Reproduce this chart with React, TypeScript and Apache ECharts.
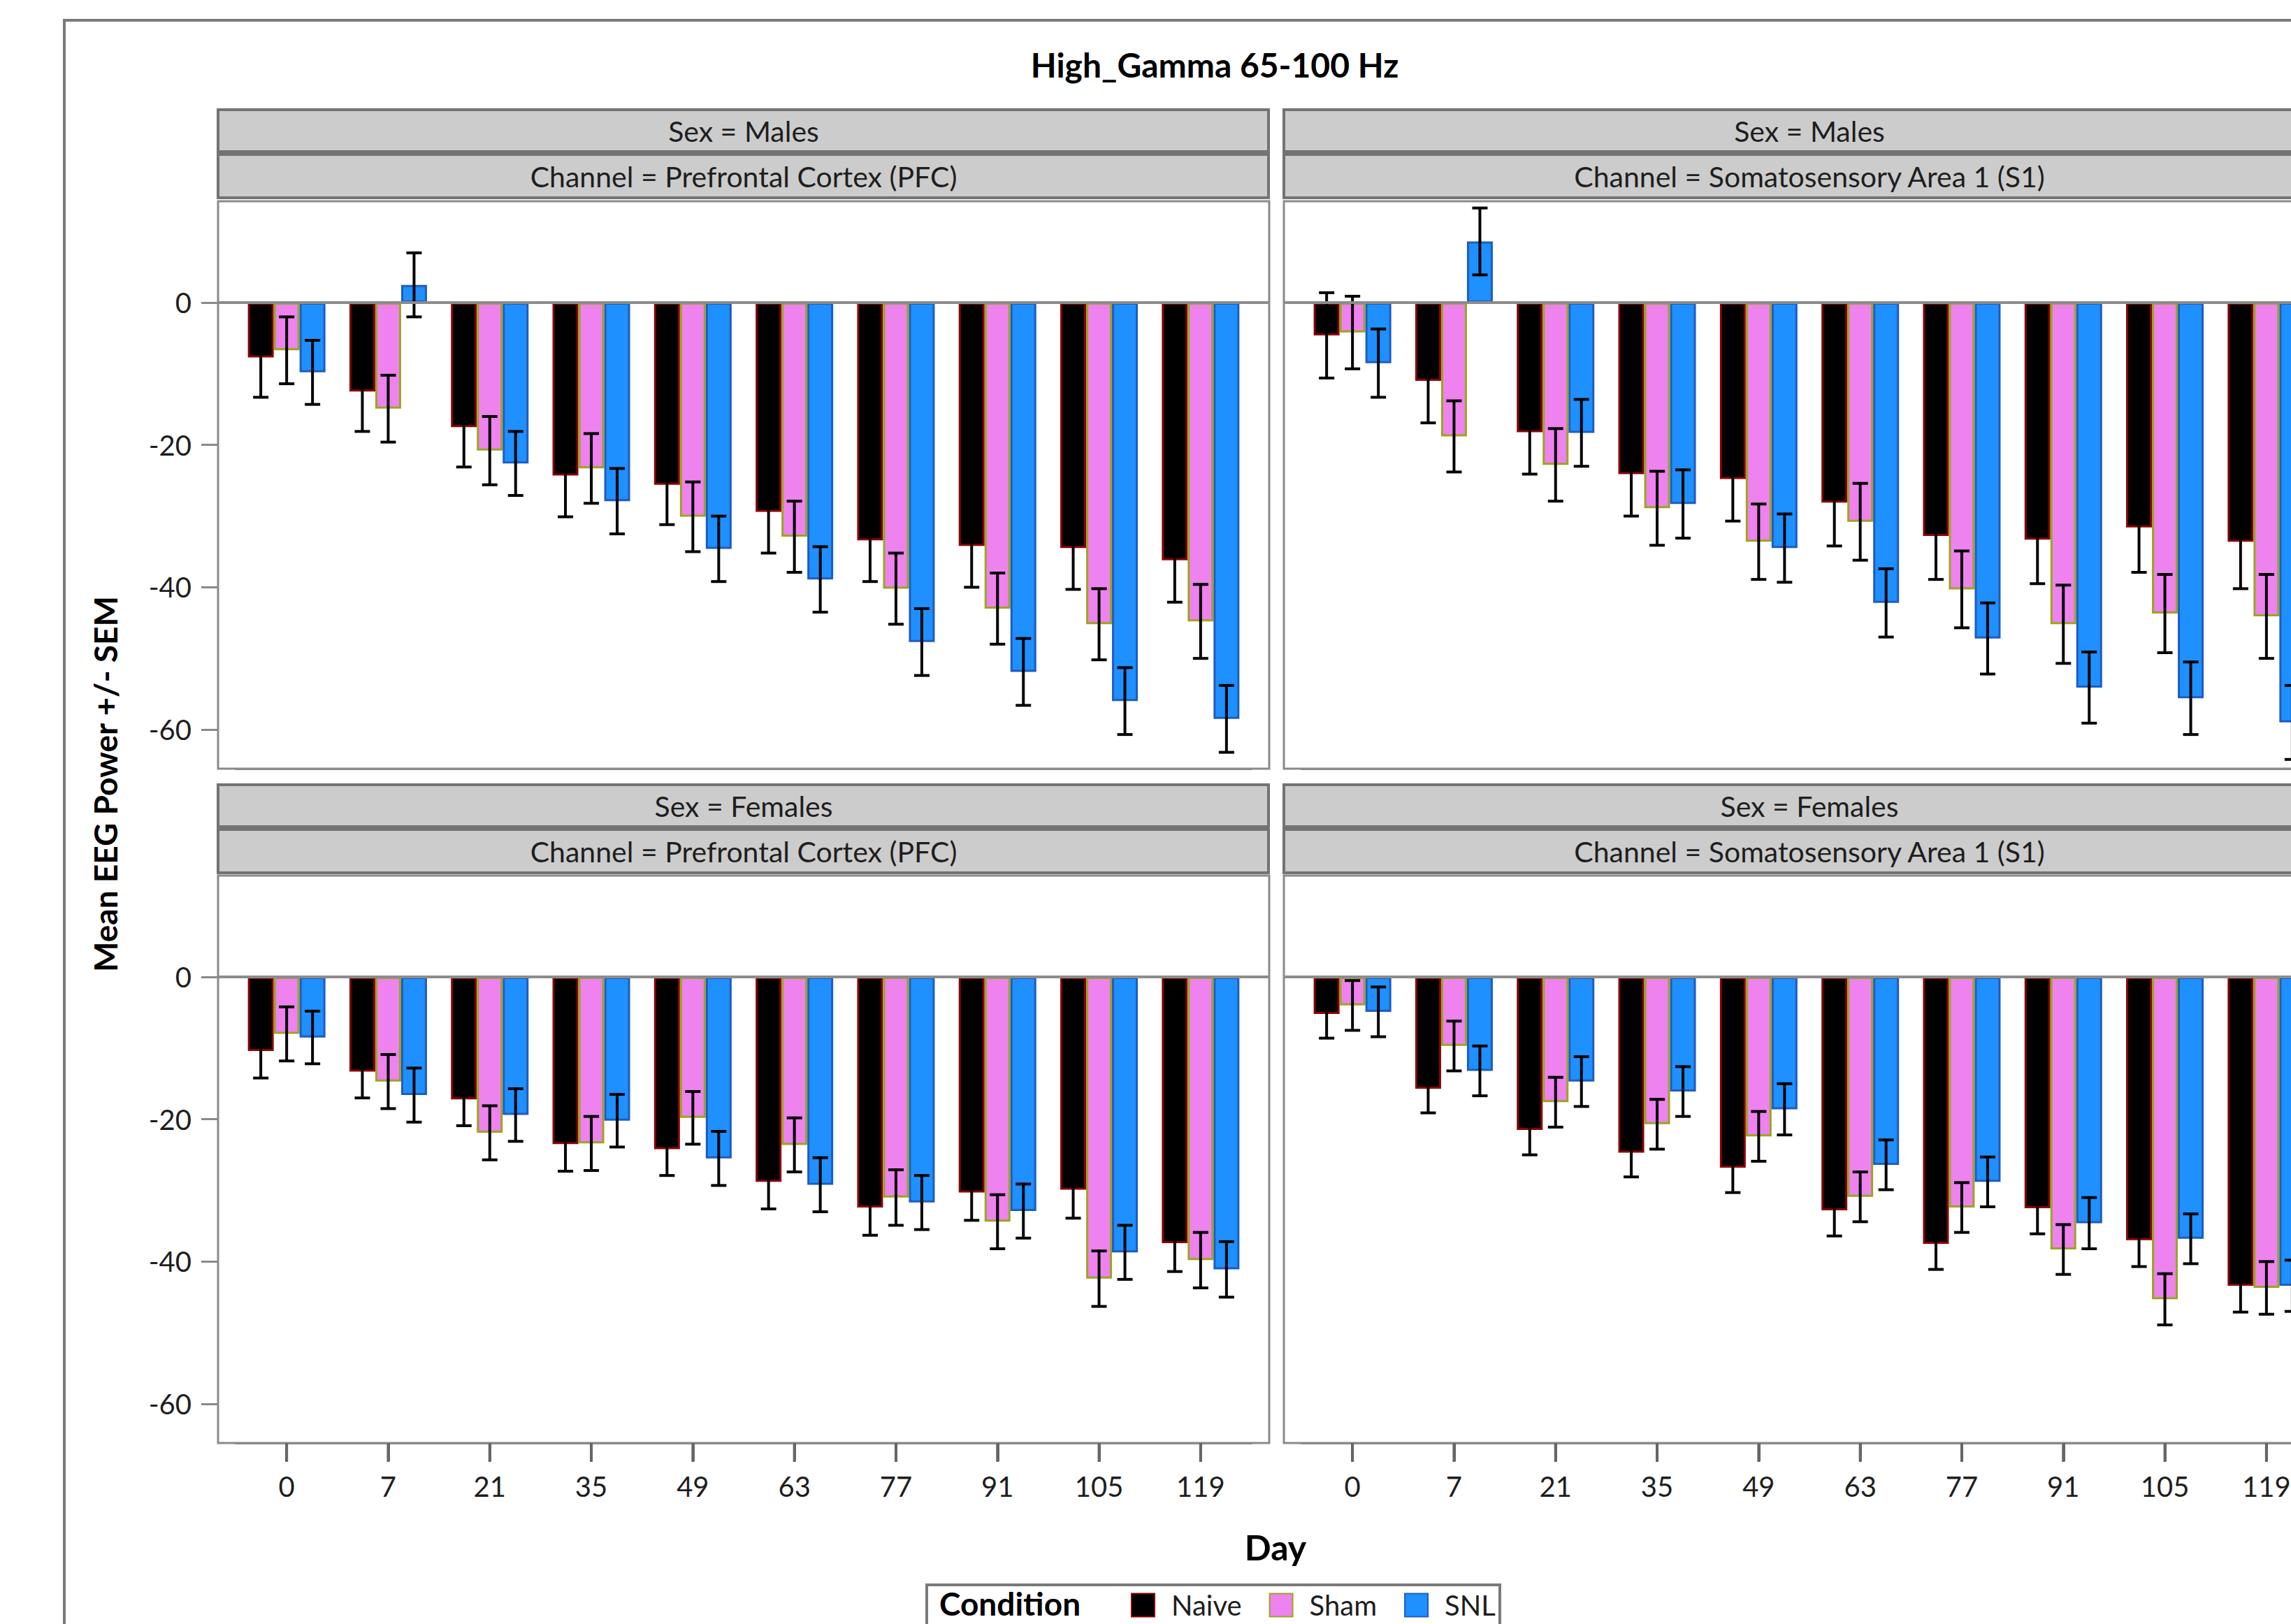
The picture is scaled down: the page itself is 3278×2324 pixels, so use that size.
import React, { useEffect, useRef } from "react";
import * as echarts from "echarts";

// ---------------- data ----------------
const chartTitle = "High_Gamma 65-100 Hz";
const yAxisTitle = "Mean EEG Power +/- SEM";
const xAxisTitle = "Day";
const legendTitle = "Condition";
const days = ["0", "7", "21", "35", "49", "63", "77", "91", "105", "119"];
const conditions = ["Naive", "Sham", "SNL"];
const yTickValues = [0, -20, -40, -60];

// Males, Prefrontal Cortex (PFC)
const malePfcNaive = [-7.7, -12.5, -17.5, -24.3, -25.6, -29.4, -33.4, -34.2, -34.5, -36.2];
const malePfcNaiveSem = [5.6, 5.6, 5.6, 5.8, 5.6, 5.8, 5.8, 5.8, 5.8, 5.9];
const malePfcSham = [-6.7, -14.9, -20.8, -23.3, -30.1, -32.9, -40.2, -43.0, -45.2, -44.8];
const malePfcShamSem = [4.7, 4.7, 4.8, 4.9, 4.9, 5.0, 5.0, 5.0, 5.0, 5.2];
const malePfcSnl = [-9.8, 2.5, -22.6, -27.9, -34.6, -38.9, -47.7, -51.9, -56.0, -58.5];
const malePfcSnlSem = [4.5, 4.5, 4.5, 4.6, 4.6, 4.6, 4.7, 4.7, 4.7, 4.7];

// Males, Somatosensory Area 1 (S1)
const maleS1Naive = [-4.6, -11.0, -18.2, -24.1, -24.8, -28.1, -32.8, -33.3, -31.6, -33.6];
const maleS1NaiveSem = [6.0, 5.9, 5.9, 5.9, 5.9, 6.1, 6.1, 6.2, 6.3, 6.6];
const maleS1Sham = [-4.2, -18.8, -22.8, -28.9, -33.6, -30.8, -40.3, -45.2, -43.7, -44.1];
const maleS1ShamSem = [5.1, 5.0, 5.1, 5.2, 5.3, 5.4, 5.4, 5.5, 5.5, 5.9];
const maleS1Snl = [-8.5, 8.6, -18.3, -28.3, -34.5, -42.2, -47.2, -54.1, -55.6, -59.0];
const maleS1SnlSem = [4.8, 4.7, 4.7, 4.8, 4.8, 4.8, 5.0, 5.0, 5.1, 5.2];

// Females, Prefrontal Cortex (PFC)
const femalePfcNaive = [-10.4, -13.3, -17.2, -23.5, -24.2, -28.8, -32.4, -30.3, -29.9, -37.4];
const femalePfcNaiveSem = [3.8, 3.7, 3.7, 3.8, 3.7, 3.8, 3.9, 3.9, 4.0, 4.0];
const femalePfcSham = [-8.0, -14.7, -21.9, -23.4, -19.8, -23.6, -31.0, -34.4, -42.4, -39.8];
const femalePfcShamSem = [3.8, 3.8, 3.8, 3.8, 3.7, 3.8, 3.9, 3.8, 3.9, 3.9];
const femalePfcSnl = [-8.5, -16.6, -19.4, -20.2, -25.5, -29.2, -31.7, -32.9, -38.7, -41.1];
const femalePfcSnlSem = [3.7, 3.8, 3.7, 3.7, 3.8, 3.8, 3.8, 3.8, 3.8, 3.9];

// Females, Somatosensory Area 1 (S1)
const femaleS1Naive = [-5.2, -15.7, -21.5, -24.7, -26.8, -32.8, -37.5, -32.5, -37.0, -43.4];
const femaleS1NaiveSem = [3.4, 3.4, 3.5, 3.4, 3.5, 3.6, 3.6, 3.6, 3.7, 3.7];
const femaleS1Sham = [-4.0, -9.7, -17.6, -20.7, -22.4, -30.9, -32.4, -38.3, -45.3, -43.7];
const femaleS1ShamSem = [3.5, 3.5, 3.5, 3.5, 3.5, 3.5, 3.5, 3.5, 3.6, 3.7];
const femaleS1Snl = [-4.9, -13.2, -14.7, -16.1, -18.6, -26.4, -28.8, -34.6, -36.8, -43.4];
const femaleS1SnlSem = [3.5, 3.5, 3.5, 3.5, 3.6, 3.5, 3.5, 3.6, 3.5, 3.6];

// ---------------- layout / style ----------------
const W = 3278;
const H = 2324;
const FONT = "Lato, 'Open Sans', 'DejaVu Sans', sans-serif";
const TEXT = "#1e1e1e";
const FRAME = "#8a8a8a";
const TICK = "#666666";
const STRIP_BORDER = "#737373";
const STRIP_FILL = "#cccccc";

const fills = ["#000000", "#ee82ee", "#1e90ff"];
const borders = ["#8b0000", "#9aa61e", "#1f5cc0"];

const Y_MIN = -65.5;
const Y_MAX = 14.25;
const colLeft = [312, 1837];
const stripTop = [155, 1121];
const plotTop = [288, 1253];
const PLOT_W = 1504;
const PLOT_H = 812;
const CAT_PAD = 25.5;
const BAR_W = 37;
const X_TICK_LEN = 26;

const panels = [
  {
    sex: "Males", channel: "Prefrontal Cortex (PFC)", col: 0, row: 0,
    means: [malePfcNaive, malePfcSham, malePfcSnl],
    sems: [malePfcNaiveSem, malePfcShamSem, malePfcSnlSem],
  },
  {
    sex: "Males", channel: "Somatosensory Area 1 (S1)", col: 1, row: 0,
    means: [maleS1Naive, maleS1Sham, maleS1Snl],
    sems: [maleS1NaiveSem, maleS1ShamSem, maleS1SnlSem],
  },
  {
    sex: "Females", channel: "Prefrontal Cortex (PFC)", col: 0, row: 1,
    means: [femalePfcNaive, femalePfcSham, femalePfcSnl],
    sems: [femalePfcNaiveSem, femalePfcShamSem, femalePfcSnlSem],
  },
  {
    sex: "Females", channel: "Somatosensory Area 1 (S1)", col: 1, row: 1,
    means: [femaleS1Naive, femaleS1Sham, femaleS1Snl],
    sems: [femaleS1NaiveSem, femaleS1ShamSem, femaleS1SnlSem],
  },
];

function errorRenderer(offset: number) {
  return (params: any, api: any) => {
    const i = api.value(0);
    const m = api.value(1);
    const s = api.value(2);
    const hi = api.coord([i, m + s]);
    const lo = api.coord([i, m - s]);
    const x = hi[0] + offset;
    const cap = 11;
    const style = { stroke: "#000", lineWidth: 4 };
    return {
      type: "group",
      children: [
        { type: "line", shape: { x1: x, y1: hi[1], x2: x, y2: lo[1] }, style },
        { type: "line", shape: { x1: x - cap, y1: hi[1], x2: x + cap, y2: hi[1] }, style },
        { type: "line", shape: { x1: x - cap, y1: lo[1], x2: x + cap, y2: lo[1] }, style },
      ],
    };
  };
}

function buildGraphic() {
  const graphic: any[] = [];
  graphic.push({
    type: "rect", id: "outer", silent: true,
    shape: { x: 92, y: 29, width: 3400, height: 3000 },
    style: { fill: "none", stroke: "#7a7a7a", lineWidth: 4 },
  });
  graphic.push({
    type: "text", id: "title", x: 1738, y: 92, silent: true,
    style: { text: chartTitle, font: `bold 48px ${FONT}`, fill: "#000", textAlign: "center", textVerticalAlign: "middle" },
  });
  graphic.push({
    type: "text", id: "ytitle", x: 150, y: 1122, rotation: Math.PI / 2, silent: true,
    style: { text: yAxisTitle, font: `bold 46px ${FONT}`, fill: "#000", textAlign: "center", textVerticalAlign: "middle" },
  });
  graphic.push({
    type: "text", id: "xtitle", x: 1825, y: 2214, silent: true,
    style: { text: xAxisTitle, font: `bold 50px ${FONT}`, fill: "#000", textAlign: "center", textVerticalAlign: "middle" },
  });
  graphic.push({
    type: "rect", id: "legendbox", silent: true,
    shape: { x: 1326, y: 2268, width: 820, height: 200 },
    style: { fill: "none", stroke: "#7a7a7a", lineWidth: 4 },
  });
  graphic.push({
    type: "text", id: "legendtitle", x: 1344, y: 2294, silent: true,
    style: { text: legendTitle, font: `bold 46px ${FONT}`, fill: "#000", textAlign: "left", textVerticalAlign: "middle" },
  });
  panels.forEach((p, pi) => {
    const fx = colLeft[p.col];
    const sy = stripTop[p.row];
    graphic.push({
      type: "rect", id: `s1-${pi}`, silent: true,
      shape: { x: fx, y: sy + 2, width: 1503, height: 60 },
      style: { fill: STRIP_FILL, stroke: STRIP_BORDER, lineWidth: 4 },
    });
    graphic.push({
      type: "rect", id: `s2-${pi}`, silent: true,
      shape: { x: fx, y: sy + 66, width: 1503, height: 62 },
      style: { fill: STRIP_FILL, stroke: STRIP_BORDER, lineWidth: 4 },
    });
    graphic.push({
      type: "text", id: `t1-${pi}`, x: fx + 752, y: sy + 32, silent: true,
      style: { text: `Sex = ${p.sex}`, font: `41px ${FONT}`, fill: TEXT, textAlign: "center", textVerticalAlign: "middle" },
    });
    graphic.push({
      type: "text", id: `t2-${pi}`, x: fx + 752, y: sy + 97, silent: true,
      style: { text: `Channel = ${p.channel}`, font: `41px ${FONT}`, fill: TEXT, textAlign: "center", textVerticalAlign: "middle" },
    });
    // bottom-row category tick marks, at the centre of each category band of the axis layout
    if (p.row === 1) {
      const band = (PLOT_W - 2 * CAT_PAD) / days.length;
      const y0 = plotTop[p.row] + PLOT_H + 1;
      days.forEach((d, i) => {
        const cx = fx + CAT_PAD + (i + 0.5) * band;
        graphic.push({
          type: "rect", id: `xt-${pi}-${i}`, silent: true, z: 50,
          shape: { x: cx - 2, y: y0, width: 4, height: X_TICK_LEN },
          style: { fill: TICK },
        });
      });
    }
  });
  return graphic;
}

function buildOption() {
  const grid: any[] = [];
  const xAxis: any[] = [];
  const yAxis: any[] = [];
  const series: any[] = [];

  panels.forEach((p, pi) => {
    const fx = colLeft[p.col];
    const fy = plotTop[p.row];
    const fg = pi * 2;
    const bg = pi * 2 + 1;

    grid.push({
      left: fx, top: fy, width: PLOT_W, height: PLOT_H,
      show: true, borderColor: FRAME, borderWidth: 3,
      containLabel: false, outerBoundsMode: "none",
    });
    grid.push({
      left: fx + CAT_PAD, top: fy, width: PLOT_W - 2 * CAT_PAD, height: PLOT_H,
      containLabel: false, outerBoundsMode: "none",
    });

    xAxis.push({ type: "value", gridIndex: fg, min: 0, max: 1, show: false });
    yAxis.push({
      type: "value", gridIndex: fg, min: Y_MIN, max: Y_MAX,
      splitLine: { show: false },
      axisLine: { show: false },
      axisTick: {
        show: p.col === 0, length: 24, customValues: yTickValues,
        lineStyle: { color: FRAME, width: 3 },
      },
      axisLabel: {
        show: p.col === 0, customValues: yTickValues, margin: 38,
        fontFamily: FONT, fontSize: 40, color: TEXT,
      },
    });

    xAxis.push({
      type: "category", gridIndex: bg, data: days, position: "bottom", z: 10,
      axisLine: { show: true, onZero: false, lineStyle: { color: FRAME, width: 3 } },
      axisTick: {
        show: p.row === 1, alignWithLabel: true, length: X_TICK_LEN, interval: 0,
        lineStyle: { color: TICK, width: 4 },
      },
      axisLabel: {
        show: p.row === 1, margin: 42, fontFamily: FONT, fontSize: 40,
        lineHeight: 40, color: TEXT, interval: 0,
      },
      splitLine: { show: false },
    });
    yAxis.push({ type: "value", gridIndex: bg, min: Y_MIN, max: Y_MAX, show: false, splitLine: { show: false } });

    conditions.forEach((c, ci) => {
      series.push({
        name: c, type: "bar", xAxisIndex: bg, yAxisIndex: bg,
        barWidth: BAR_W, barGap: "0%", z: 2,
        itemStyle: { color: fills[ci], borderColor: borders[ci], borderWidth: 3 },
        data: p.means[ci],
      });
    });
    conditions.forEach((c, ci) => {
      series.push({
        name: `${c} SEM`, type: "custom", xAxisIndex: bg, yAxisIndex: bg, z: 3,
        renderItem: errorRenderer((ci - 1) * BAR_W),
        encode: { x: 0, y: 1 },
        data: days.map((_, i) => [i, p.means[ci][i], p.sems[ci][i]]),
        silent: true,
      });
    });
    series.push({
      name: "zero", type: "line", xAxisIndex: fg, yAxisIndex: fg, z: 4,
      symbol: "none", silent: true,
      lineStyle: { color: "#8c8c8c", width: 4 },
      data: [[0, 0], [1, 0]],
    });
  });

  return {
    animation: false,
    backgroundColor: "#ffffff",
    textStyle: { fontFamily: FONT },
    grid, xAxis, yAxis, series,
    graphic: buildGraphic(),
    legend: {
      data: conditions,
      left: 1618, top: 2277,
      itemWidth: 33, itemHeight: 33, itemGap: 39, padding: 0,
      icon: "rect", selectedMode: false,
      textStyle: {
        fontFamily: FONT, fontSize: 40, lineHeight: 36, color: TEXT,
        padding: [0, 0, 0, 19],
      },
    },
  };
}

export default function App() {
  const ref = useRef<HTMLDivElement>(null);
  useEffect(() => {
    if (!ref.current) return;
    const chart = echarts.init(ref.current, undefined, { renderer: "svg", width: W, height: H });
    chart.setOption(buildOption() as any);
    return () => chart.dispose();
  }, []);
  return (
    <div
      ref={ref}
      style={{ position: "absolute", left: 0, top: 0, width: W, height: H, background: "#fff" }}
    />
  );
}
